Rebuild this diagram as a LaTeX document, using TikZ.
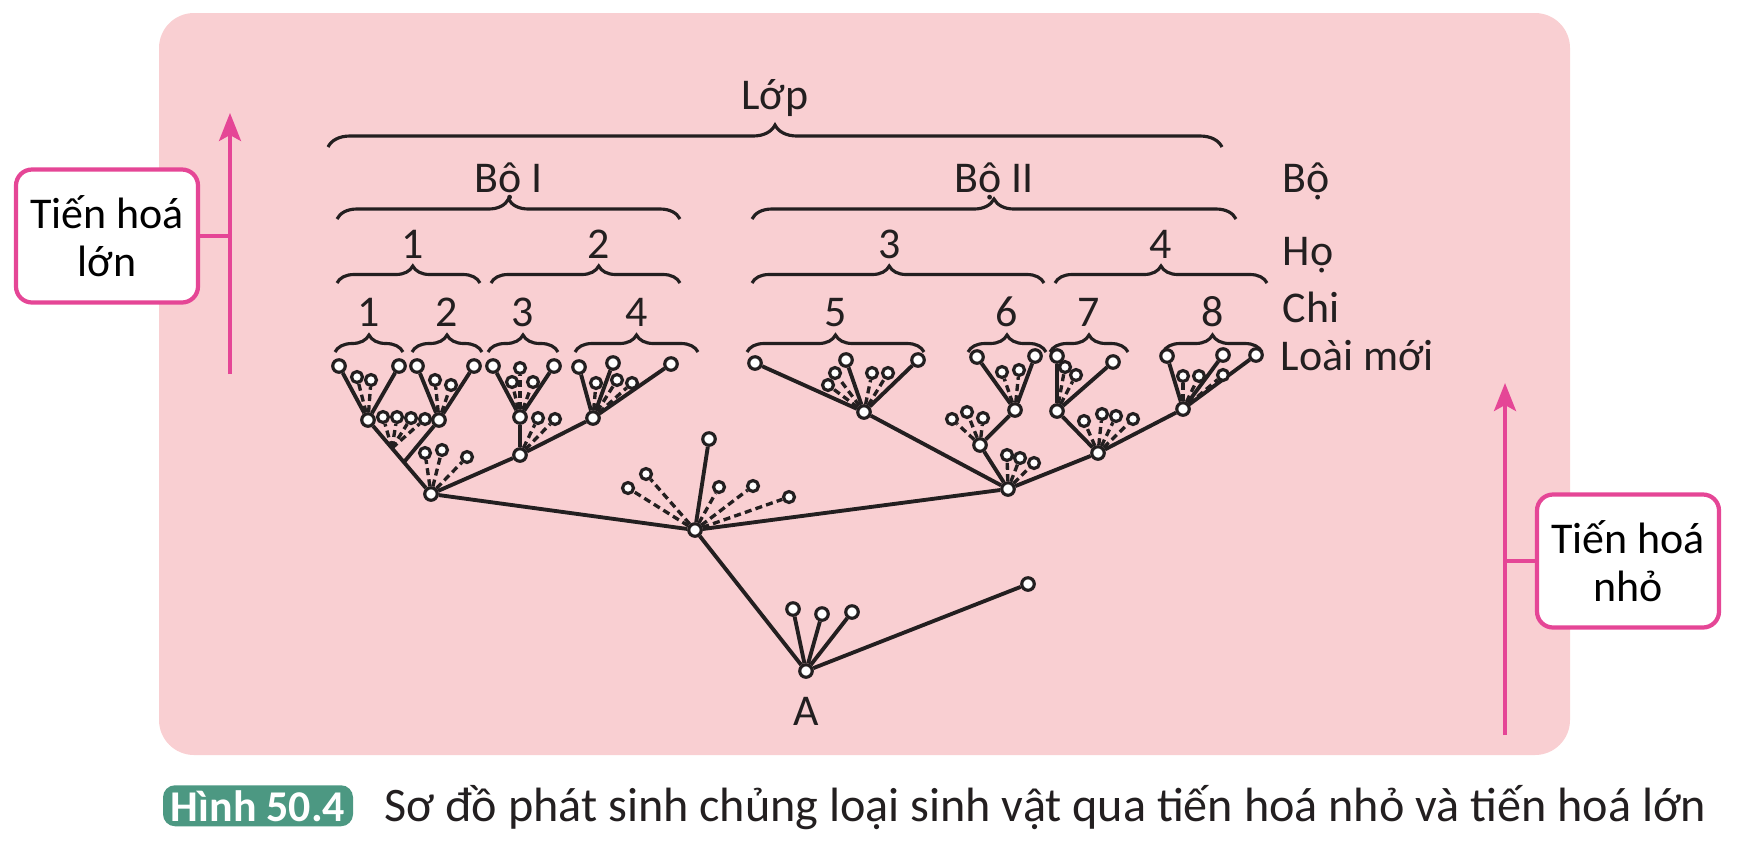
\documentclass[tikz,border=0pt]{standalone}
\usepackage{fontspec}
\setmainfont{Carlito}
\usetikzlibrary{arrows.meta,decorations.pathreplacing,calc,positioning}

\definecolor{nen}{RGB}{249,207,210}
\definecolor{hong}{RGB}{229,70,150}
\definecolor{xanh}{RGB}{76,152,130}
\definecolor{muc}{RGB}{35,31,32}

\tikzset{
	nut/.style={circle, draw=muc, fill=white, line width=0.9pt, inner sep=0pt, minimum size=1.25mm},
	nutnho/.style={nut, minimum size=1.1mm},
	nhanh/.style={draw=muc, line width=1.1pt},
	gach/.style={draw=muc, line width=0.95pt, dash pattern=on 2pt off 1.2pt},
	ngoac/.style={draw=muc, line width=0.9pt, decorate, decoration={brace, amplitude=1.7mm}},
	chu/.style={font=\fontsize{12.5}{13.7}\selectfont, text=muc, inner sep=0pt},
	hop/.style={draw=hong, line width=1.2pt, fill=white, rounded corners=1.6mm, align=center,
		minimum width=18.2mm, minimum height=13.3mm, inner sep=0pt, font=\fontsize{12.5}{13.7}\selectfont},
	muiten/.style={draw=hong, line width=1pt, -{Stealth[length=2.8mm, width=2.2mm, inset=0.6mm]}},
	nhan/.style={fill=xanh, text=white, rounded corners=1.2mm, inner sep=0pt,
		minimum width=19mm, minimum height=4.1mm, font=\fontsize{12.5}{14}\selectfont\bfseries},
}

\begin{document}
\begin{tikzpicture}[x=0.1mm, y=-0.1mm]
	\useasboundingbox (0,0) rectangle (1742,853);
	\fill[nen, rounded corners=3.5mm] (159,13) rectangle (1570,755);

	% bac phan loai
	\draw[ngoac, decoration={amplitude=2.2mm}] (328,147) -- (1222,147) node[chu, midway, anchor=base, yshift=3.8mm] (ten-lop) {Lớp};
	\draw[ngoac, decoration={amplitude=2mm}] (337,219) -- (680,219) node[chu, midway, anchor=base, yshift=2.7mm] (ten-bo1) {Bộ I};
	\draw[ngoac, decoration={amplitude=2mm}] (752,219) -- (1236,219) node[chu, midway, anchor=base, yshift=2.7mm] (ten-bo2) {Bộ II};
	\draw[ngoac, decoration={aspect=0.53}] (337,283) -- (480,283) node[chu, pos=0.53, anchor=base, yshift=2.5mm] (ten-ho1) {1};
	\draw[ngoac, decoration={aspect=0.57}] (491,283) -- (680,283) node[chu, pos=0.57, anchor=base, yshift=2.5mm] (ten-ho2) {2};
	\draw[ngoac, decoration={aspect=0.47}] (752,283) -- (1044,283) node[chu, pos=0.47, anchor=base, yshift=2.5mm] (ten-ho3) {3};
	\draw[ngoac] (1055,283) -- (1267,283) node[chu, midway, anchor=base, yshift=2.5mm] (ten-ho4) {4};
	\foreach \a/\b/\c in {335/403/1, 412/482/2, 488/558/3, 575/698/4, 747/924/5, 968/1046/6, 1050/1128/7, 1163/1262/8}
		\draw[ngoac] (\a,352) -- (\b,352) node[chu, midway, anchor=base, yshift=2.6mm] (ten-chi\c) {\c};

	\node[chu, anchor=base west] (cot-bo) at (1282,192) {Bộ};
	\node[chu, anchor=base west] (cot-ho) at (1282,265) {Họ};
	\node[chu, anchor=base west] (cot-chi) at (1282,322) {Chi};
	\node[chu, anchor=base west] (cot-loai) at (1280,370) {Loài mới};

	% goc va cac nut chinh
	\node[nut] (A) at (806,671) {};
	\node[chu, below=1.8mm of A] (ten-A) {A};
	\node[nut] (lop) at (695,530) {};
	\node[nut] (bo1) at (431,494) {};
	\node[nut] (bo2) at (1008,489) {};
	\draw[nhanh] (A) -- (lop);
	\draw[nhanh] (lop) -- (bo1);
	\draw[nhanh] (lop) -- (bo2);
	\foreach \x/\y in {793/609, 822/614, 852/612, 1028/584} {
		\node[nut] (a-\x) at (\x,\y) {};
		\draw[nhanh] (A) -- (a-\x);
	}
	\node[nut] (lop-709) at (709,439) {};
	\draw[nhanh] (lop) -- (lop-709);
	\foreach \x/\y in {628/488, 646/474, 719/487, 753/486, 789/497} {
		\node[nutnho] (dl-\x) at (\x,\y) {};
		\draw[gach] (lop) -- (dl-\x);
	}

	% bo I
	\node[nut] (g1) at (368,420) {};
	\node[nut] (g2) at (439,420) {};
	\node[nut] (f2) at (520,455) {};
	\node[nut] (g3) at (520,417) {};
	\node[nut] (g4) at (593,418) {};
	\coordinate (j1) at ($(g1)!0.38!(bo1)$);
	\coordinate (j2) at ($(g1)!0.57!(bo1)$);
	\draw[nhanh] (g1) -- (bo1);
	\draw[nhanh] (g2) -- (j2);
	\draw[nhanh] (bo1) -- (f2);
	\draw[nhanh] (f2) -- (g3);
	\draw[nhanh] (f2) -- (g4);
	\foreach \x/\y in {383/417, 397/417, 411/418, 425/419} {
		\node[nutnho] (dj-\x) at (\x,\y) {};
		\draw[gach] (j1) -- (dj-\x);
	}
	\foreach \x/\y in {425/453, 442/450, 467/457} {
		\node[nutnho] (db1-\x) at (\x,\y) {};
		\draw[gach] (bo1) -- (db1-\x);
	}
	\foreach \x/\y in {538/418, 555/419} {
		\node[nutnho] (df2-\x) at (\x,\y) {};
		\draw[gach] (f2) -- (df2-\x);
	}
	\foreach \g/\x/\y in {g1/339/366, g1/399/366, g2/417/366, g2/474/366, g3/493/366, g3/554/366, g4/579/367, g4/613/363, g4/671/364} {
		\node[nut] (\g-\x) at (\x,\y) {};
		\draw[nhanh] (\g) -- (\g-\x);
	}
	\foreach \g/\x/\y in {g1/357/377, g1/371/380, g2/435/380, g2/451/385, g3/512/382, g3/520/368, g3/533/382, g4/596/383, g4/617/380, g4/632/383} {
		\node[nutnho] (d\g-\x) at (\x,\y) {};
		\draw[gach] (\g) -- (d\g-\x);
	}

	% bo II
	\node[nut] (g5) at (864,412) {};
	\node[nut] (p6) at (980,445) {};
	\node[nut] (g6) at (1015,410) {};
	\node[nut] (f4) at (1098,453) {};
	\node[nut] (g7) at (1057,411) {};
	\node[nut] (g8) at (1183,409) {};
	\draw[nhanh] (bo2) -- (g5);
	\draw[nhanh] (bo2) -- (p6);
	\draw[nhanh] (p6) -- (g6);
	\draw[nhanh] (bo2) -- (f4);
	\draw[nhanh] (f4) -- (g7);
	\draw[nhanh] (f4) -- (g8);
	\foreach \g/\x/\y in {bo2/1007/455, bo2/1020/458, bo2/1034/463, p6/952/419, p6/967/412, p6/983/418, f4/1084/421, f4/1102/414, f4/1116/416, f4/1133/419} {
		\node[nutnho] (d\g-\x) at (\x,\y) {};
		\draw[gach] (\g) -- (d\g-\x);
	}
	\foreach \g/\x/\y in {g5/755/363, g5/846/360, g5/918/360, g6/977/357, g6/1035/356, g7/1057/356, g7/1113/362, g8/1167/356, g8/1223/355, g8/1256/355} {
		\node[nut] (\g-\x) at (\x,\y) {};
		\draw[nhanh] (\g) -- (\g-\x);
	}
	\foreach \g/\x/\y in {g5/828/385, g5/835/373, g5/872/373, g5/888/373, g6/1002/372, g6/1019/370, g7/1065/367, g7/1076/375, g8/1183/376, g8/1199/376, g8/1223/375} {
		\node[nutnho] (d\g-\x) at (\x,\y) {};
		\draw[gach] (\g) -- (d\g-\x);
	}

	% tien hoa lon, tien hoa nho
	\coordinate (lon-duoi) at (230,374);
	\coordinate (lon-tren) at (230,113);
	\draw[muiten] (lon-duoi) -- (lon-tren);
	\node[hop] (tienhoalon) at (107,236) {Tiến hoá\\lớn};
	\draw[hong, line width=1.2pt] (tienhoalon.east) -- (tienhoalon.east -| lon-duoi);
	\coordinate (nho-duoi) at (1505,735);
	\coordinate (nho-tren) at (1505,383);
	\draw[muiten] (nho-duoi) -- (nho-tren);
	\node[hop] (tienhoanho) at (1628,561) {Tiến hoá\\nhỏ};
	\draw[hong, line width=1.2pt] (tienhoanho.west) -- (tienhoanho.west -| nho-duoi);

	% chu thich
	\node[nhan, anchor=base] (hinh) at (258,821) {Hình 50.4};
	\node[chu, font=\fontsize{13.7}{15}\selectfont, anchor=base west] (chuthich) at ($(hinh.base east)+(30,0)$) {Sơ đồ phát sinh chủng loại sinh vật qua tiến hoá nhỏ và tiến hoá lớn};
\end{tikzpicture}
\end{document}
